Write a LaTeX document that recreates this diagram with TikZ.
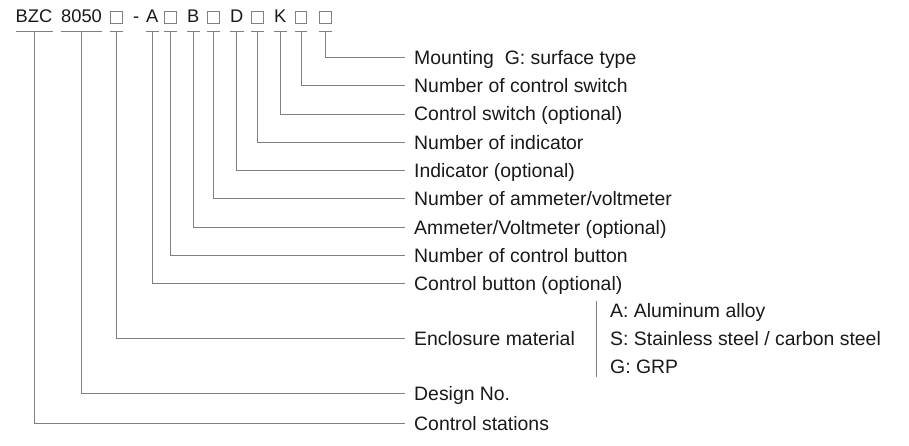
\documentclass[tikz,border=0pt]{standalone}
\usepackage{fontspec}
\setmainfont{Liberation Sans}
\begin{document}
\begin{tikzpicture}[x=1pt,y=-1pt,
  conn/.style={draw=black!50, line width=0.7pt},
  hdr/.style={inner sep=0pt, font=\fontsize{18.3}{20}\selectfont, text=black!90, anchor=base west},
  sq/.style={draw=black!50, line width=0.6pt, minimum size=11.5pt, inner sep=0pt},
  lbl/.style={anchor=west, inner xsep=9pt, inner ysep=0pt, text height=13.9pt, text depth=0pt, font=\fontsize{19.4}{22}\selectfont, text=black!90},
  optlbl/.style={lbl, inner xsep=0pt}
]
\useasboundingbox (0,0) rectangle (909,445);

% header
\node[hdr] (bzc) at (15.5,22.7) {BZC};
\node[hdr] (n8050) at (61,22.7) {8050};
\node[sq] (s1) at (116.5,17.2) {};
\node[hdr] (dash) at (133,22.7) {-};
\node[hdr] (a) at (146,22.7) {A};
\node[sq] (s2) at (170.5,17.2) {};
\node[hdr] (b) at (187,22.7) {B};
\node[sq] (s3) at (213.5,17.2) {};
\node[hdr] (d) at (230,22.7) {D};
\node[sq] (s4) at (257.5,17.2) {};
\node[hdr] (k) at (274,22.7) {K};
\node[sq] (s5) at (301,17.2) {};
\node[sq] (s6) at (325.5,17.2) {};

\foreach \n in {bzc,n8050,s1,a,s2,b,s3,d,s4,k,s5,s6}
  \draw[conn] (\n.west |- 0,31.7) -- (\n.east |- 0,31.7);

% labels
\node[lbl] (l1) at (405,57.3) {Mounting~~G: surface type};
\node[lbl] (l2) at (405,85.6) {Number of control switch};
\node[lbl] (l3) at (405,113.9) {Control switch (optional)};
\node[lbl] (l4) at (405,142.2) {Number of indicator};
\node[lbl] (l5) at (405,170.5) {Indicator (optional)};
\node[lbl] (l6) at (405,198.8) {Number of ammeter/voltmeter};
\node[lbl] (l7) at (405,227.1) {Ammeter/Voltmeter (optional)};
\node[lbl] (l8) at (405,255.4) {Number of control button};
\node[lbl] (l9) at (405,283.7) {Control button (optional)};
\node[lbl] (l10) at (405,338.3) {Enclosure material};
\node[lbl] (l11) at (405,393.3) {Design No.};
\node[lbl] (l12) at (405,423.3) {Control stations};

% options
\node[optlbl] (oa) at (610,310.5) {A: Aluminum alloy};
\node[optlbl] (os) at (610,338.3) {S: Stainless steel / carbon steel};
\node[optlbl] (og) at (610,366.1) {G: GRP};
\draw[conn] (596,301) -- (596,377);

% connectors
\draw[conn] (s6.center |- 0,31.7) |- (l1.west);
\draw[conn] (s5.center |- 0,31.7) |- (l2.west);
\draw[conn] (k.center |- 0,31.7) |- (l3.west);
\draw[conn] (s4.center |- 0,31.7) |- (l4.west);
\draw[conn] (d.center |- 0,31.7) |- (l5.west);
\draw[conn] (s3.center |- 0,31.7) |- (l6.west);
\draw[conn] (b.center |- 0,31.7) |- (l7.west);
\draw[conn] (s2.center |- 0,31.7) |- (l8.west);
\draw[conn] (a.center |- 0,31.7) |- (l9.west);
\draw[conn] (s1.center |- 0,31.7) |- (l10.west);
\draw[conn] (n8050.center |- 0,31.7) |- (l11.west);
\draw[conn] (bzc.center |- 0,31.7) |- (l12.west);
\end{tikzpicture}
\end{document}
